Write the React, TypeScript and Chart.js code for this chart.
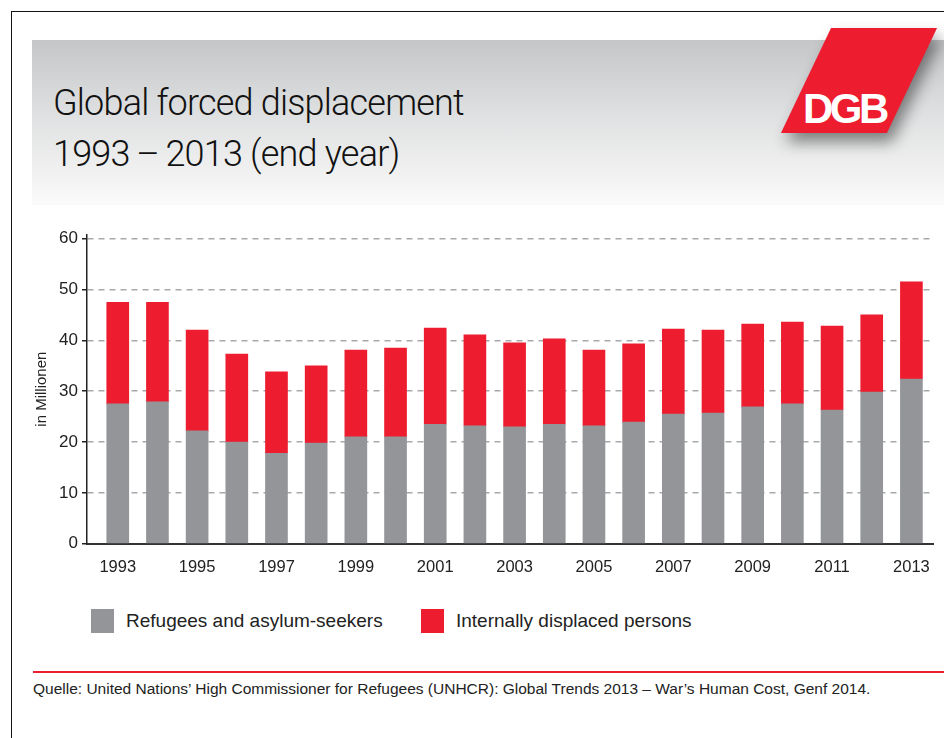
import React, { useEffect, useRef } from "react";
import { Chart, registerables } from "chart.js";

Chart.register(...registerables);

// ---- data ----
const years = [1993, 1994, 1995, 1996, 1997, 1998, 1999, 2000, 2001, 2002, 2003, 2004, 2005, 2006, 2007, 2008, 2009, 2010, 2011, 2012, 2013];
const refugees = [27.5, 27.9, 22.2, 20.0, 17.8, 19.8, 21.0, 21.0, 23.5, 23.2, 23.0, 23.5, 23.2, 23.9, 25.5, 25.7, 26.9, 27.5, 26.3, 29.8, 32.4];
const idps = [20.0, 19.6, 19.8, 17.3, 16.0, 15.2, 17.1, 17.5, 18.9, 17.9, 16.5, 16.8, 14.9, 15.4, 16.7, 16.3, 16.3, 16.1, 16.5, 15.2, 19.1];
const xTickYears = [1993, 1995, 1997, 1999, 2001, 2003, 2005, 2007, 2009, 2011, 2013];
const yTickValues = [0, 10, 20, 30, 40, 50, 60];
const seriesNames = ["Refugees and asylum-seekers", "Internally displaced persons"];
const seriesColors = ["#939598", "#ed1c2e"];

const FONT = "'Liberation Sans', Arial, sans-serif";
const TEXT_FONT = "'Liberation Sans', Arial, sans-serif";

function ChartCanvas() {
  const ref = useRef<HTMLCanvasElement | null>(null);
  useEffect(() => {
    if (!ref.current) return;
    const chart = new Chart(ref.current, {
      type: "bar",
      data: {
        datasets: [
          {
            label: seriesNames[0],
            data: years.map((y, i) => ({ x: y, y: refugees[i] })),
            backgroundColor: seriesColors[0],
            barThickness: 22,
          },
          {
            label: seriesNames[1],
            data: years.map((y, i) => ({ x: y, y: idps[i] })),
            backgroundColor: seriesColors[1],
            barThickness: 22,
          },
        ],
      },
      options: {
        responsive: false,
        animation: false,
        layout: { padding: { top: 14.6, right: 9, left: 0, bottom: 0 } },
        plugins: { legend: { display: false }, tooltip: { enabled: false } },
        scales: {
          x: {
            type: "linear",
            stacked: true,
            offset: false,
            min: 1992.225,
            max: 2013.553,
            afterBuildTicks: (axis: any) => {
              axis.ticks = xTickYears.map((v) => ({ value: v }));
            },
            afterFit: (axis: any) => {
              axis.height = 46.3;
            },
            grid: { display: true, drawOnChartArea: false, drawTicks: false },
            border: { display: true, color: "#333333", width: 2 },
            ticks: {
              padding: 14,
              color: "#222222",
              font: { family: FONT, size: 16.5 },
              autoSkip: false,
              maxRotation: 0,
              callback: (v: any) => String(v),
            },
          },
          y: {
            type: "linear",
            stacked: true,
            min: 0,
            max: 60.8,
            afterBuildTicks: (axis: any) => {
              axis.ticks = yTickValues.map((v) => ({ value: v }));
            },
            afterFit: (axis: any) => {
              axis.width = 87;
            },
            grid: {
              color: "#a7a9ac",
              lineWidth: 1.5,
              tickLength: 5,
              tickColor: "#222222",
              tickWidth: 1.5,
              tickBorderDash: [],
            },
            border: { display: true, color: "#222222", width: 1.5, dash: [6, 5] },
            ticks: {
              padding: 4,
              color: "#222222",
              font: { family: FONT, size: 17 },
            },
            title: {
              display: true,
              text: "in Millionen",
              color: "#222222",
              font: { family: FONT, size: 15 },
              padding: { top: 33, bottom: 0 },
            },
          },
        },
      },
    } as any);
    return () => chart.destroy();
  }, []);
  return (
    <canvas
      ref={ref}
      width={944}
      height={370}
      style={{ position: "absolute", left: 0, top: 220, width: 944, height: 370 }}
    />
  );
}

export default function App() {
  return (
    <div style={{ position: "absolute", left: 0, top: 0, width: 944, height: 738, background: "#ffffff", overflow: "hidden", fontFamily: TEXT_FONT }}>
      {/* frame */}
      <div style={{ position: "absolute", left: 11, top: 11, width: 960, height: 760, borderTop: "1.5px solid #111", borderLeft: "1.5px solid #111" }} />
      {/* header */}
      <div style={{ position: "absolute", left: 32, top: 40, width: 912, height: 165, background: "linear-gradient(to bottom, #c5c6c8 0%, #dfe0e1 45%, #f3f3f3 85%, #fbfbfb 100%)" }} />
      <div style={{ position: "absolute", left: 53, top: 78, fontFamily: "Roboto, 'Liberation Sans', sans-serif", fontWeight: 300, fontSize: 36, lineHeight: "51px", color: "#111", whiteSpace: "nowrap", letterSpacing: "-0.8px" }}>
        <div>Global forced displacement</div>
        <div>1993{"\u2009–\u2009"}2013 (end year)</div>
      </div>
      {/* logo */}
      <div style={{ position: "absolute", left: 806, top: 28, width: 106, height: 105, background: "#ed1c2e", transform: "skewX(-25.5deg)", boxShadow: "9px 9px 14px rgba(0,0,0,0.45)" }} />
      <div style={{ position: "absolute", left: 803, top: 84, fontFamily: TEXT_FONT, fontWeight: 700, fontSize: 42, lineHeight: "50px", color: "#ffffff", letterSpacing: "-3.5px", whiteSpace: "nowrap" }}>DGB</div>
      <ChartCanvas />
      {/* legend */}
      {seriesNames.map((name, i) => (
        <div key={name} style={{ position: "absolute", left: i === 0 ? 91 : 421, top: 609, display: "flex", alignItems: "center", whiteSpace: "nowrap" }}>
          <div style={{ width: 23, height: 24, background: seriesColors[i] }} />
          <div style={{ marginLeft: 12, fontSize: 19, color: "#222", lineHeight: "24px" }}>{name}</div>
        </div>
      ))}
      {/* rule */}
      <div style={{ position: "absolute", left: 33, top: 671, width: 911, height: 2, background: "#ed1c2e" }} />
      <div style={{ position: "absolute", left: 33, top: 680, fontSize: 15.5, lineHeight: "18px", color: "#222", whiteSpace: "nowrap" }}>
        Quelle: United Nations’ High Commissioner for Refugees (UNHCR): Global Trends 2013 – War’s Human Cost, Genf 2014.
      </div>
    </div>
  );
}
